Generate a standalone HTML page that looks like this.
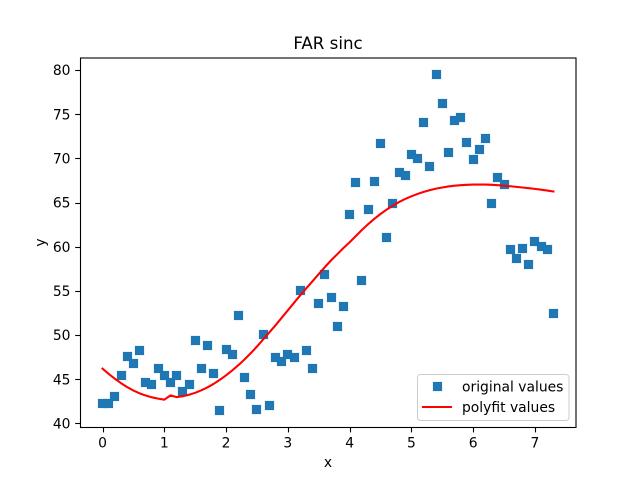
<!DOCTYPE html>
<html>
<head>
<meta charset="utf-8">
<style>
html,body{margin:0;padding:0;background:#fff;}
svg{display:block;}
text{font-family:"DejaVu Sans","Liberation Sans",sans-serif;fill:#000;}
</style>
</head>
<body>
<svg id="chart" width="640" height="480" viewBox="0 0 640 480" xmlns="http://www.w3.org/2000/svg">
  <rect width="640" height="480" fill="#fff"/>
  <text x="328" y="49" font-size="16.67" text-anchor="middle">FAR sinc</text>
  <g id="x-ticks"></g>
  <g id="y-ticks"></g>
  <g id="points"></g>
  <polyline id="fit" fill="none" stroke="#ff0000" stroke-width="2.08" stroke-linejoin="round" stroke-linecap="square"/>
  <rect x="80.5" y="58" width="495.5" height="369.5" fill="none" stroke="#000" stroke-width="1.1"/>
  <text x="328" y="467" font-size="13.89" text-anchor="middle">x</text>
  <text transform="translate(45,242.5) rotate(-90)" font-size="13.89" text-anchor="middle">y</text>
  <g>
    <rect x="417.5" y="374.5" width="151.5" height="46" rx="3" fill="#fff" fill-opacity="0.8" stroke="#cccccc" stroke-width="1"/>
    <rect x="433" y="382" width="9" height="9" fill="#1f77b4" stroke="#1f77b4" stroke-opacity="0.2" stroke-width="1"/>
    <text x="462" y="391.5" font-size="13.89">original values</text>
    <line x1="422" y1="407" x2="452" y2="407" stroke="#ff0000" stroke-width="2.08"/>
    <text x="462" y="412" font-size="13.89">polyfit values</text>
  </g>
</svg>
<script>
const xValues = [0,0.1,0.2,0.3,0.4,0.5,0.6,0.7,0.8,0.9,1,1.1,1.2,1.3,1.4,1.5,1.6,1.7,1.8,1.9,2,2.1,2.2,2.3,2.4,2.5,2.6,2.7,2.8,2.9,3,3.1,3.2,3.3,3.4,3.5,3.6,3.7,3.8,3.9,4,4.1,4.2,4.3,4.4,4.5,4.6,4.7,4.8,4.9,5,5.1,5.2,5.3,5.4,5.5,5.6,5.7,5.8,5.9,6,6.1,6.2,6.3,6.4,6.5,6.6,6.7,6.8,6.9,7,7.1,7.2,7.3];
const originalValues = [42.26,42.26,43.05,45.4,47.6,46.8,48.25,44.6,44.4,46.2,45.4,44.6,45.4,43.6,44.4,49.4,46.2,48.8,45.65,41.47,48.37,47.8,52.2,45.2,43.3,41.6,50.07,42.0,47.47,47.0,47.8,47.47,55.05,48.25,46.2,53.6,56.85,54.25,50.97,53.2,63.64,67.26,56.2,64.2,67.37,71.67,61.04,64.9,68.4,68.06,70.4,69.96,74.05,69.07,79.5,76.2,70.66,74.27,74.6,71.8,69.87,71.0,72.24,64.9,67.83,67.04,59.68,58.66,59.8,57.98,60.6,60.0,59.68,52.44];
const polyfitValues = [46.2,45.6,45.05,44.55,44.1,43.72,43.4,43.15,42.95,42.8,42.68,43.17,42.97,43.08,43.24,43.46,43.74,44.08,44.48,44.94,45.44,46.0,46.6,47.25,47.95,48.7,49.5,50.3,51.1,51.95,52.8,53.65,54.5,55.3,56.1,56.9,57.7,58.45,59.15,59.85,60.5,61.2,61.9,62.55,63.15,63.7,64.2,64.65,65.05,65.4,65.7,65.97,66.2,66.4,66.57,66.7,66.82,66.9,66.96,67.0,67.03,67.04,67.03,67.0,66.96,66.9,66.84,66.77,66.7,66.62,66.54,66.45,66.35,66.25];
const xTickLabels = [0,1,2,3,4,5,6,7];
const yTickLabels = [40,45,50,55,60,65,70,75,80];

const SVG_NS = 'http://www.w3.org/2000/svg';
const plotLeft = 80, plotRight = 576, plotTop = 57.6, plotBottom = 427.2;
const xMin = Math.min(...xValues), xMax = Math.max(...xValues);
const xPad = (xMax - xMin) * 0.05;
const xDomainMin = xMin - xPad, xDomainMax = xMax + xPad;
const yDataMin = Math.min(...originalValues, ...polyfitValues);
const yDataMax = Math.max(...originalValues, ...polyfitValues);
const yPad = (yDataMax - yDataMin) * 0.05;
const yDomainMin = yDataMin - yPad, yDomainMax = yDataMax + yPad;

function xScale(v) {
  return plotLeft + (v - xDomainMin) / (xDomainMax - xDomainMin) * (plotRight - plotLeft);
}
function yScale(v) {
  return plotBottom - (v - yDomainMin) / (yDomainMax - yDomainMin) * (plotBottom - plotTop);
}
function make(tag, attrs) {
  const el = document.createElementNS(SVG_NS, tag);
  for (const k in attrs) el.setAttribute(k, attrs[k]);
  return el;
}

const xTickGroup = document.getElementById('x-ticks');
xTickLabels.forEach(function (t) {
  const px = Math.round(xScale(t)) + 0.5;
  const tick = make('line', {x1: px, x2: px, y1: 427.5, y2: 432.4, stroke: '#000', 'stroke-width': 1.1});
  
  
  xTickGroup.appendChild(tick);
  const label = make('text', {x: xScale(t), y: 447.5, 'font-size': 13.89, 'text-anchor': 'middle'});
  
  
  label.textContent = t;
  xTickGroup.appendChild(label);
});

const yTickGroup = document.getElementById('y-ticks');
yTickLabels.forEach(function (t) {
  const py = Math.round(yScale(t)) + 0.5;
  const tick = make('line', {x1: 75.2, x2: 80.5, y1: py, y2: py, stroke: '#000', 'stroke-width': 1.1});
  
  
  yTickGroup.appendChild(tick);
  const label = make('text', {x: 70.5, y: yScale(t) + 5.2, 'font-size': 13.89, 'text-anchor': 'end'});
  
  
  label.textContent = t;
  yTickGroup.appendChild(label);
});

const pointGroup = document.getElementById('points');
originalValues.forEach(function (v, i) {
  const size = 9;
  const rect = make('rect', {
    x: Math.round(xScale(xValues[i]) - size / 2),
    y: Math.round(yScale(v) - size / 2),
    width: size, height: size, fill: '#1f77b4',
    stroke: '#1f77b4', 'stroke-opacity': 0.2, 'stroke-width': 1
  });
  
  
  pointGroup.appendChild(rect);
});

document.getElementById('fit').setAttribute('points', polyfitValues.map(function (v, i) {
  return xScale(xValues[i]).toFixed(2) + ',' + yScale(v).toFixed(2);
}).join(' '));
</script>
</body>
</html>
